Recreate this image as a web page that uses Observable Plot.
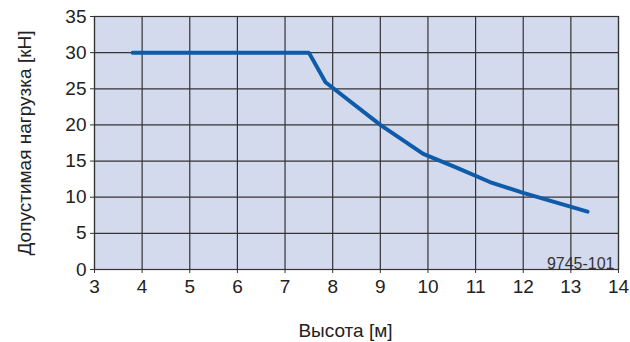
<!DOCTYPE html>
<html>
<head>
<meta charset="utf-8">
<script src="https://cdn.jsdelivr.net/npm/d3@7"></script>
<script src="https://cdn.jsdelivr.net/npm/@observablehq/plot@0.6"></script>
<style>
  html, body { margin: 0; padding: 0; background: #ffffff; }
</style>
</head>
<body>
<div id="chart"></div>
<script>
// Data
const heights = [3.8, 7.5, 7.85, 9, 9.9, 10.6, 11.3, 12, 13.35];   // Высота [м]
const loads   = [30, 30, 25.9, 20, 16, 14.1, 12.1, 10.6, 8];        // Допустимая нагрузка [кН]
const xTicks = [3, 4, 5, 6, 7, 8, 9, 10, 11, 12, 13, 14];
const yTicks = [0, 5, 10, 15, 20, 25, 30, 35];
const xLabel = "Высота [м]";
const yLabel = "Допустимая нагрузка [кН]";
const codeLabel = "9745-101";

const data = heights.map((h, i) => ({h, p: loads[i]}));

const chart = Plot.plot({
  width: 630,
  height: 342,
  marginLeft: 94,
  marginRight: 12,
  marginTop: 16,
  marginBottom: 73,
  style: {fontFamily: "'Liberation Sans', Arial, Helvetica, sans-serif", fontSize: "19px", color: "#222", background: "#ffffff"},
  x: {domain: [3, 14]},
  y: {domain: [0, 35]},
  marks: [
    Plot.frame({fill: "#d4daee", stroke: "none"}),
    Plot.gridX(xTicks, {stroke: "#333", strokeOpacity: 1, strokeWidth: 1.2}),
    Plot.gridY(yTicks, {stroke: "#333", strokeOpacity: 1, strokeWidth: 1.2}),
    Plot.frame({stroke: "#333", strokeWidth: 1.2}),
    Plot.line(data, {x: "h", y: "p", stroke: "#0e5ca9", strokeWidth: 4, strokeLinejoin: "miter"}),
    Plot.axisX(xTicks, {tickSize: 4, tickPadding: 6, label: null, fontSize: 19, stroke: "#333"}),
    Plot.axisY(yTicks, {tickSize: 4, tickPadding: 4, label: null, fontSize: 19, stroke: "#333"}),
    Plot.text([xLabel], {frameAnchor: "bottom", dx: -11, dy: 67.5, fontSize: 19, fill: "#222"}),
    Plot.text([yLabel], {frameAnchor: "left", textAnchor: "middle", rotate: -90, dx: -70, fontSize: 19, fill: "#222"}),
    Plot.text([codeLabel], {ariaLabel: "code", frameAnchor: "bottom-right", textAnchor: "end", dx: -4, dy: -1, fontSize: 16, fill: "#333"})
  ]
});
document.getElementById("chart").appendChild(chart);
// condense the drawing code label like the narrow font of the reference
d3.select(chart).selectAll("g[aria-label='code'] text")
  .attr("textLength", 53).attr("lengthAdjust", "spacingAndGlyphs");
</script>
</body>
</html>
